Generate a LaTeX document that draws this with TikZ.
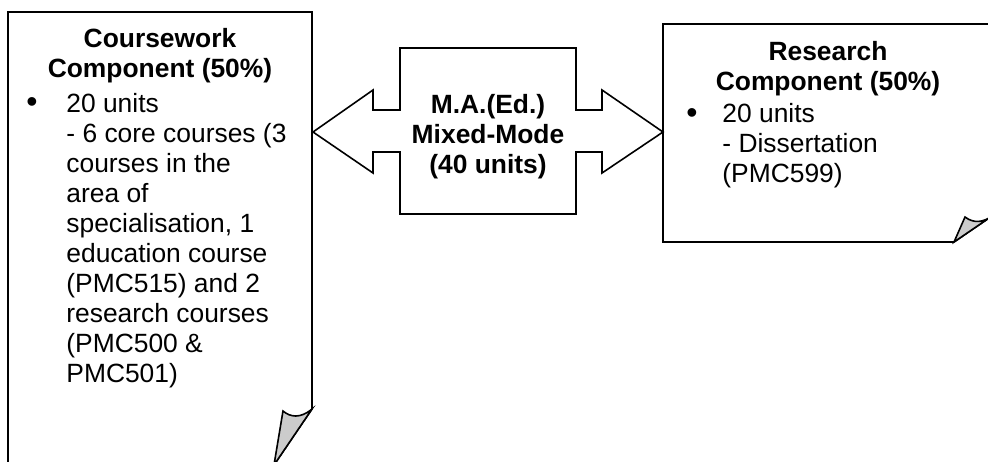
\documentclass[tikz,border=0pt]{standalone}
\usepackage{fontspec}
\setmainfont{Liberation Sans}
\usepackage{tikz}
\newcommand{\sheetfont}{\fontsize{13.2}{15}\selectfont}
\tikzstyle{paper} = [draw, line width=0.8pt, line join=miter]
\tikzstyle{flap} = [draw, line width=0.8pt, fill=gray!40, line join=miter]
\tikzstyle{boxtitle} = [font=\sheetfont\bfseries, align=center, anchor=base, inner sep=0pt]
\tikzstyle{body} = [font=\sheetfont, align=left, anchor=base west, inner sep=0pt]
\tikzstyle{dot} = [font=\fontsize{16}{15}\selectfont, anchor=base, inner sep=0pt]

\begin{document}
\begin{tikzpicture}[x=0.5pt, y=-0.5pt]
    \useasboundingbox (0,0) rectangle (988,461);
    \clip (0,0) rectangle (988,461);

    % Coursework sheet
    \path [paper] (8,470) -- (8,12) -- (312,12) -- (312,409) -- (274,465) -- (274,470);
    \path [flap] (312,409) .. controls (300,419) and (290,417) .. (283,411) -- (274,465) -- cycle;

    % Research sheet
    \path [paper] (992,216) -- (992,24) -- (663,24) -- (663,242) -- (954,242) -- cycle;
    \path [flap] (992,216) .. controls (984,222) and (974,224) .. (965,217) -- (954,242) -- cycle;

    % Double arrow in the middle
    \path [paper] (313,132) -- (373,90) -- (373,110) -- (400,110) -- (400,48) -- (576,48)
        -- (576,110) -- (602,110) -- (602,90) -- (663,132) -- (602,173) -- (602,152)
        -- (576,152) -- (576,214) -- (400,214) -- (400,152) -- (373,152) -- (373,173) -- cycle;

    % Place nodes (anchored at the baseline of the last line)
    \node [boxtitle] (cwtitle) at (160,77) {Coursework\\Component (50\%)};
    \node [dot] (cwdot) at (32,112) {\textbullet};
    \node [body] (cwtext) at (66,382) {20 units\\- 6 core courses (3\\courses in the\\area of\\specialisation, 1\\education course\\(PMC515) and 2\\research courses\\(PMC500 \&\\PMC501)};

    \node [boxtitle] (mamode) at (488,173) {M.A.(Ed.)\\Mixed-Mode\\(40 units)};

    \node [boxtitle] (rstitle) at (828,90) {Research\\Component (50\%)};
    \node [dot] (rsdot) at (692,123) {\textbullet};
    \node [body] (rstext) at (722,182) {20 units\\- Dissertation\\(PMC599)};
\end{tikzpicture}
\end{document}
